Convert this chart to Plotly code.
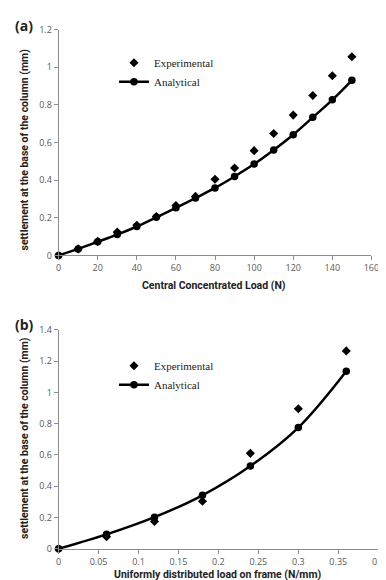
import plotly.graph_objects as go

# Panel (a) data
load_a = [0, 10, 20, 30, 40, 50, 60, 70, 80, 90, 100, 110, 120, 130, 140, 150]
exp_a = [0, 0.035, 0.075, 0.125, 0.161, 0.207, 0.266, 0.314, 0.405, 0.465, 0.557, 0.648, 0.746, 0.850, 0.955, 1.056]
ana_a = [0, 0.035, 0.073, 0.111, 0.154, 0.203, 0.253, 0.305, 0.359, 0.420, 0.486, 0.561, 0.642, 0.734, 0.827, 0.931]

# Panel (b) data
load_b = [0, 0.06, 0.12, 0.18, 0.24, 0.30, 0.36]
exp_b = [0, 0.077, 0.175, 0.304, 0.610, 0.895, 1.265]
ana_b = [0, 0.092, 0.202, 0.342, 0.529, 0.775, 1.135]

W, H = 386, 580
def px(x):
    return x / W
def py(y):
    return 1 - y / H

TXT = "#222222"
TICK = "#595959"
AX = "#8c8c8c"
serif = "Liberation Serif"
sans = "Open Sans"
tsans = "Roboto"

fig = go.Figure()

fig.add_trace(go.Scatter(x=load_a, y=exp_a, mode="markers", name="Experimental",
                         marker=dict(symbol="diamond", size=7, color="black"),
                         cliponaxis=False, xaxis="x", yaxis="y", legend="legend"))
fig.add_trace(go.Scatter(x=load_a, y=ana_a, mode="lines+markers", name="Analytical",
                         line=dict(color="black", width=2.5, shape="spline"),
                         marker=dict(symbol="circle", size=7.5, color="black"),
                         cliponaxis=False, xaxis="x", yaxis="y", legend="legend"))
fig.add_trace(go.Scatter(x=load_b, y=exp_b, mode="markers", name="Experimental",
                         marker=dict(symbol="diamond", size=7, color="black"),
                         cliponaxis=False, xaxis="x2", yaxis="y2", legend="legend2"))
fig.add_trace(go.Scatter(x=load_b, y=ana_b, mode="lines+markers", name="Analytical",
                         line=dict(color="black", width=2.5, shape="spline"),
                         marker=dict(symbol="circle", size=7.5, color="black"),
                         cliponaxis=False, xaxis="x2", yaxis="y2", legend="legend2"))

axcommon = dict(showgrid=False, zeroline=False, showline=True, linecolor=AX, linewidth=1,
                ticks="outside", ticklen=4, tickcolor=AX, tickwidth=1,
                tickfont=dict(family=sans, size=9, color=TICK))

fig.update_layout(
    width=W, height=H,
    margin=dict(l=0, r=0, t=0, b=0),
    paper_bgcolor="white", plot_bgcolor="white",
    xaxis=dict(domain=[px(49), px(371)], range=[0, 160], dtick=20, anchor="y", **axcommon),
    yaxis=dict(domain=[py(246), py(15)], range=[0, 1.2], dtick=0.2, anchor="x", **axcommon),
    xaxis2=dict(domain=[px(49), px(378)], range=[0, 0.4], dtick=0.05, anchor="y2", **axcommon),
    yaxis2=dict(domain=[py(546), py(322)], range=[0, 1.4], dtick=0.2, anchor="x2", **axcommon),
    legend=dict(x=px(106), y=py(34), xanchor="left", yanchor="top",
                font=dict(family=serif, size=11, color=TXT), bgcolor="rgba(0,0,0,0)",
                tracegroupgap=0, itemwidth=30),
    legend2=dict(x=px(106), y=py(344), xanchor="left", yanchor="top",
                 font=dict(family=serif, size=11, color=TXT), bgcolor="rgba(0,0,0,0)",
                 tracegroupgap=0, itemwidth=30),
    showlegend=True,
)

ann = []
title_font = dict(family=tsans, size=10.5, color=TXT)
ann.append(dict(text="<b>Central Concentrated Load (N)</b>", x=px(209), y=py(277), xref="paper", yref="paper",
                showarrow=False, xanchor="center", yanchor="middle", font=title_font))
ann.append(dict(text="<b>settlement at the base of the column (mm)</b>", x=px(14), y=py(138), xref="paper", yref="paper",
                showarrow=False, xanchor="center", yanchor="middle", textangle=-90, font=title_font))
ann.append(dict(text="<b>Uniformly distributed load on frame (N/mm)</b>", x=px(213), y=py(572), xref="paper", yref="paper",
                showarrow=False, xanchor="center", yanchor="middle", font=title_font))
ann.append(dict(text="<b>settlement at the base of the column (mm)</b>", x=px(14), y=py(433), xref="paper", yref="paper",
                showarrow=False, xanchor="center", yanchor="middle", textangle=-90, font=title_font))
ann.append(dict(text="<b>(a)</b>", x=px(2), y=py(11), xref="paper", yref="paper",
                showarrow=False, xanchor="left", yanchor="middle", font=dict(family=sans, size=14, color=TXT)))
ann.append(dict(text="<b>(b)</b>", x=px(2), y=py(317), xref="paper", yref="paper",
                showarrow=False, xanchor="left", yanchor="middle", font=dict(family=sans, size=14, color=TXT)))
fig.update_layout(annotations=ann)

fig.write_html("out.html")
